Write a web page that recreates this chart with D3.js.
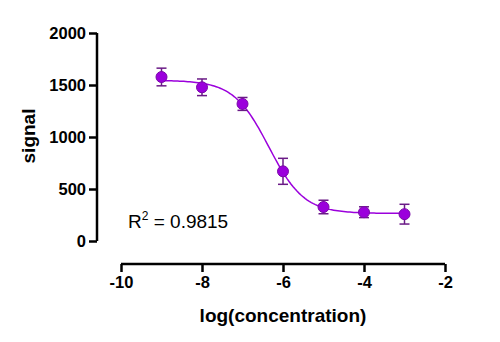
<!DOCTYPE html>
<html>
<head>
<meta charset="utf-8">
<script src="https://cdn.jsdelivr.net/npm/d3@7"></script>
<style>
  body { margin: 0; background: #fff; }
  svg { display: block; }
</style>
</head>
<body>
<div id="chart"></div>
<script>
const logConc = [-9, -8, -7, -6, -5, -4, -3];
const signal = [1577, 1478, 1318, 670, 327, 277, 258];
const sem = [85, 80, 62, 125, 65, 52, 95];

// 4PL fit parameters
const fitTop = 1545, fitBottom = 265, logIC50 = -6.35, hill = 1;

const xTicks = [-10, -8, -6, -4, -2];
const yTicks = [0, 500, 1000, 1500, 2000];

const width = 500, height = 342;
const font = "Liberation Sans, Arial, sans-serif";

const svg = d3.select("#chart")
  .append("svg")
  .attr("width", width)
  .attr("height", height);

const x = d3.scaleLinear().domain([-10, -2]).range([121, 445]);
const y = d3.scaleLinear().domain([0, 2000]).range([241, 33]);

const purple = "#9b00dc";
const dark = "#6a1a86";

// y axis
svg.append("g")
  .attr("transform", "translate(97,0)")
  .call(d3.axisLeft(y).tickValues(yTicks).tickSize(8).tickPadding(3).tickFormat(d => String(d)))
  .call(g => g.selectAll("path, line").attr("stroke", "#000").attr("stroke-width", 2.5))
  .call(g => g.select(".domain").attr("d", "M0," + y(2000) + "V" + y(0)))
  .call(g => g.selectAll("text")
    .attr("font-family", font)
    .attr("font-weight", "bold")
    .attr("font-size", 16.5)
    .attr("fill", "#000"));

// x axis (plain hyphen for minus, as in the reference)
svg.append("g")
  .attr("transform", "translate(0,264)")
  .call(d3.axisBottom(x).tickValues(xTicks).tickSize(8).tickPadding(4).tickFormat(d => String(d)))
  .call(g => g.selectAll("path, line").attr("stroke", "#000").attr("stroke-width", 2.5))
  .call(g => g.select(".domain").attr("d", "M" + x(-10) + ",0H" + x(-2)))
  .call(g => g.selectAll("text")
    .attr("font-family", font)
    .attr("font-weight", "bold")
    .attr("font-size", 16.5)
    .attr("fill", "#000"));

// axis titles
svg.append("text")
  .attr("transform", "translate(35,136) rotate(-90)")
  .attr("text-anchor", "middle")
  .attr("font-family", font)
  .attr("font-weight", "bold")
  .attr("font-size", 19)
  .text("signal");

svg.append("text")
  .attr("x", 283)
  .attr("y", 322)
  .attr("text-anchor", "middle")
  .attr("font-family", font)
  .attr("font-weight", "bold")
  .attr("font-size", 19)
  .text("log(concentration)");

// fitted curve
const fit = v => fitBottom + (fitTop - fitBottom) / (1 + Math.pow(10, hill * (v - logIC50)));
const curveX = d3.range(-9, -2.99, 0.05);
svg.append("path")
  .datum(curveX)
  .attr("fill", "none")
  .attr("stroke", purple)
  .attr("stroke-width", 1.5)
  .attr("d", d3.line().x(d => x(d)).y(d => y(fit(d))));

// error bars
const pts = logConc.map((c, i) => ({ c: c, v: signal[i], e: sem[i] }));
const bars = svg.append("g").attr("stroke", dark).attr("stroke-width", 1.5);
pts.forEach(p => {
  bars.append("line")
    .attr("x1", x(p.c)).attr("x2", x(p.c))
    .attr("y1", y(p.v + p.e)).attr("y2", y(p.v - p.e));
  [p.v + p.e, p.v - p.e].forEach(b => {
    bars.append("line")
      .attr("x1", x(p.c) - 5).attr("x2", x(p.c) + 5)
      .attr("y1", y(b)).attr("y2", y(b));
  });
});

// points
svg.append("g")
  .selectAll("circle")
  .data(pts)
  .join("circle")
  .attr("cx", d => x(d.c))
  .attr("cy", d => y(d.v))
  .attr("r", 5.5)
  .attr("fill", purple)
  .attr("stroke", "#7a0aa8")
  .attr("stroke-width", 1);

// R squared
const r2 = svg.append("text")
  .attr("x", 128)
  .attr("y", 228)
  .attr("font-family", font)
  .attr("font-size", 19)
  .attr("fill", "#000");
r2.append("tspan").text("R");
r2.append("tspan").attr("dy", -8).attr("font-size", 12).text("2");
r2.append("tspan").attr("dy", 8).text(" = 0.9815");
</script>
</body>
</html>
